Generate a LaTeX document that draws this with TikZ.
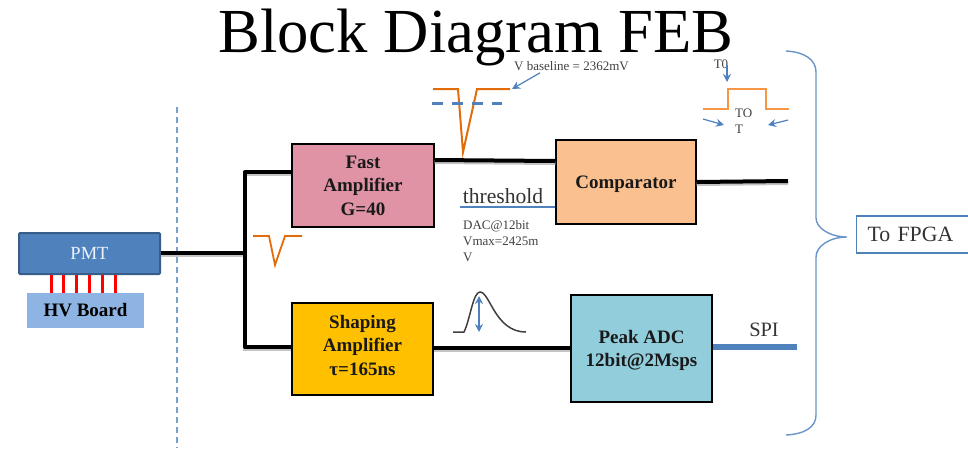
\documentclass[tikz,border=0pt]{standalone}
\usepackage{fontspec}
\setmainfont{Liberation Serif}
\usetikzlibrary{arrows.meta, positioning}
\definecolor{pmtblue}{HTML}{4f81bd}
\definecolor{pmtedge}{HTML}{385d8a}
\definecolor{hvblue}{HTML}{8eb4e3}
\definecolor{fastpink}{HTML}{e093a5}
\definecolor{shapegold}{HTML}{ffc000}
\definecolor{comppeach}{HTML}{fac090}
\definecolor{adcblue}{HTML}{92cddc}
\definecolor{pulseorange}{HTML}{e36c0a}
\definecolor{totorange}{HTML}{f79646}
\definecolor{bracegrey}{HTML}{404040}
\definecolor{wireshadow}{HTML}{c4c4c4}
\tikzset{
	blockbox/.style={draw=black, line width=1.3pt, align=center, font=\fontsize{19}{23.5}\selectfont\bfseries, text=black!90, inner sep=0pt},
	wire/.style={line width=4pt, black, preaction={draw=wireshadow, line width=4pt, transform canvas={yshift=-2pt}}},
	thinarrow/.style={pmtblue, line width=1.2pt, -{Stealth[length=8pt,width=8pt]}},
	note/.style={font=\fontsize{13}{16}\selectfont, text=black!75, inner sep=0pt, align=left}
}

\begin{document}
\begin{tikzpicture}[x=1pt, y=-1pt]
	\useasboundingbox (0,0) rectangle (968,448);
	\node[font=\fontsize{62.7}{63}\selectfont, inner sep=0pt, text depth=0pt, anchor=base] (title) at (476,52) {Block Diagram FEB};

	% left side
	\draw[pmtblue!75, line width=1.5pt, dashed, dash pattern=on 6pt off 4pt] (177,107) -- (177,448);
	\node[fill=pmtblue, draw=pmtedge, line width=2pt, rounded corners=1pt, minimum width=141pt, minimum height=41pt,
		font=\fontsize{18.5}{20}\selectfont, text=white!90!pmtblue, inner sep=0pt] (pmt) at (89.5,253.5) {PMT};
	\node[fill=hvblue, minimum width=117pt, minimum height=35pt, font=\fontsize{19}{20}\selectfont\bfseries,
		inner sep=0pt] (hv) at (85.5,310.5) {HV Board};
	\foreach \x in {51,63,76,89,102,115}
		\draw[red, line width=3pt] (\x,275) -- (\x,293);

	% blocks
	\node[blockbox, fill=fastpink, minimum width=142pt, minimum height=83pt] (fast) at (363,185.5) {Fast\\Amplifier\\G=40};
	\node[blockbox, fill=shapegold, minimum width=141pt, minimum height=92pt, text depth=8pt] (shaping) at (362.5,349) {Shaping\\Amplifier\\τ=165ns};
	\node[blockbox, fill=comppeach, minimum width=140pt, minimum height=84pt, text depth=0pt] (comp) at (626,182) {Comparator};
	\node[blockbox, fill=adcblue, minimum width=141pt, minimum height=107pt, text depth=0pt] (adc) at (641.5,348.5) {Peak ADC\\12bit@2Msps};

	% wires
	\coordinate (branch) at (245,253);
	\coordinate (tapfast) at (245,172);
	\coordinate (tapshaping) at (245,347);
	\coordinate (adcin) at (500,348);
	\coordinate (compout) at (788,181);
	\coordinate (spiout) at (797,347);
	\coordinate (threshin) at (460,207);
	\draw[wire] (pmt.east |- branch) -- (branch);
	\draw[wire, line join=round] (tapfast -| fast.west) -- (tapfast) -- (tapshaping) -- (tapshaping -| shaping.west);
	\draw[wire] ([yshift=25.5pt]fast.east) -- ([yshift=21pt]comp.west);
	\draw[wire] (comp.east) -- (compout);
	\draw[wire] (adcin -| shaping.east) -- (adcin -| adc.west);
	\draw[pmtblue, line width=6pt] (adc.east |- spiout) -- (spiout);
	\draw[pmtblue, line width=2.5pt] (threshin) -- (threshin -| comp.west);
	\node[font=\fontsize{21.6}{22}\selectfont, text=black!80, inner sep=0pt] (threshlabel) at (503,196) {threshold};
	\node[note, anchor=north west] (daclabel) at (463,220) {DAC@12bit\\Vmax=2425m\\V};
	\node[font=\fontsize{20.4}{21}\selectfont, text=black!80, inner sep=0pt] (spilabel) at (764,330) {SPI};

	% pulses
	\draw[pulseorange, line width=2pt] (433,89) -- (458,89) -- (463,152) -- (477,89) -- (510,89);
	\draw[pmtblue, line width=3pt, dash pattern=on 11pt off 9pt] (431.5,103) -- (502,103);
	\node[note, anchor=west] (baseline) at (514,66) {V baseline = 2362mV};
	\draw[thinarrow] ([xshift=26pt,yshift=-2pt]baseline.south west) -- (512,89);
	\draw[pulseorange, line width=1.8pt] (253,236) -- (269,236) -- (275,265) -- (285,236) -- (302,236);
	\draw[bracegrey, line width=1.5pt] (453,332) -- (464,332) .. controls (470,320) and (473,292) .. (480,292)
		.. controls (490,292) and (495,332) .. (526,332);
	\draw[pmtblue, line width=1.3pt, {Stealth[length=8pt,width=8pt]}-{Stealth[length=8pt,width=8pt]}] (479,296) -- (479,332);

	% time over threshold
	\draw[totorange, line width=2pt] (703,109) -- (728,109) -- (728,89) -- (766,89) -- (766,109) -- (789,109);
	\node[note, anchor=center] (tzero) at (721,64) {T0};
	\draw[thinarrow] (727,65) -- (727,82);
	\node[note, anchor=north west] (tot) at (735,108.5) {TO\\T};
	\draw[thinarrow] (703,119) -- (724,125);
	\draw[thinarrow] (788,120) -- (768,125);

	% brace and output
	\draw[pmtblue!85, line width=1.4pt] (786,51) .. controls (805,52) and (816,60) .. (816,72) -- (816,218)
		.. controls (816,228) and (830,237) .. (847,237) .. controls (830,237) and (816,246) .. (816,257) -- (816,415)
		.. controls (816,427) and (805,434) .. (786,435);
	\node[draw=pmtblue, line width=1.2pt, fill=white, minimum width=120pt, minimum height=37pt, anchor=west, inner sep=0pt,
		font=\fontsize{21.8}{22}\selectfont, text=black!80, text width=98pt, align=left] (fpga) at (856,234.5) {To FPGA};
\end{tikzpicture}
\end{document}
